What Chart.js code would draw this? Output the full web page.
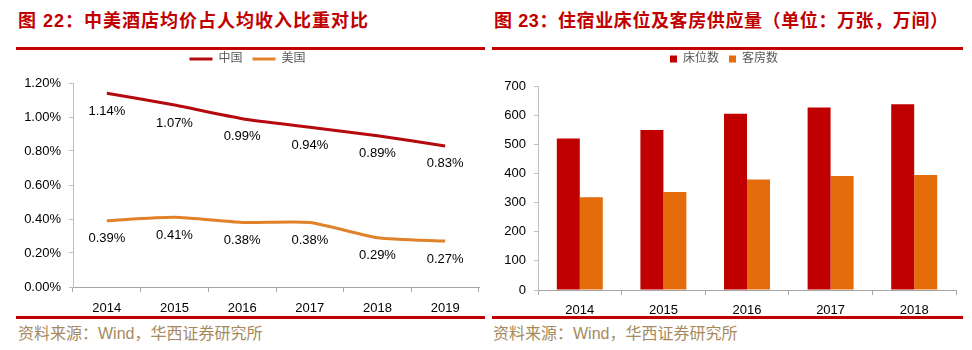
<!DOCTYPE html>
<html>
<head>
<meta charset="utf-8">
<script src="https://cdn.jsdelivr.net/npm/chart.js@4.4.0/dist/chart.umd.min.js"></script>
<style>
  body { margin: 0; width: 972px; height: 350px; background: #fff; position: relative; overflow: hidden; }
  .title { position: absolute; top: 6px; font: bold 18px "Liberation Sans", "Noto Sans CJK SC", sans-serif; color: #C00000; white-space: nowrap; }
  .rule { position: absolute; height: 3px; background: #C00000; }
  .src { position: absolute; top: 320px; font: 16px "Liberation Sans", "Noto Sans CJK SC", sans-serif; color: #A68A5E; white-space: nowrap; }
  canvas { position: absolute; top: 43px; }
</style>
</head>
<body>
<div class="title" style="left:18px;letter-spacing:1px">图 22：中美酒店均价占人均收入比重对比</div>
<div class="title" style="left:494px;letter-spacing:0.6px">图 23：住宿业床位及客房供应量（单位：万张，万间）</div>
<div class="rule" style="left:16px;width:469px;top:47px"></div>
<div class="rule" style="left:492px;width:471px;top:47px"></div>
<canvas id="lineChart" width="470" height="275" style="left:16px"></canvas>
<canvas id="barChart" width="471" height="275" style="left:492px"></canvas>
<div class="rule" style="left:16px;width:469px;top:316px"></div>
<div class="rule" style="left:492px;width:471px;top:316px"></div>
<div class="src" style="left:18px">资料来源：Wind，华西证券研究所</div>
<div class="src" style="left:493px">资料来源：Wind，华西证券研究所</div>

<script>
// 图22 数据（%）
const years22 = ['2014', '2015', '2016', '2017', '2018', '2019'];
const china = [1.14, 1.07, 0.99, 0.94, 0.89, 0.83];
const usa = [0.39, 0.41, 0.38, 0.38, 0.29, 0.27];
const yTicks22 = [0, 0.2, 0.4, 0.6, 0.8, 1.0, 1.2];

// 图23 数据（万张，万间）
const years23 = ['2014', '2015', '2016', '2017', '2018'];
const beds = [520, 549, 605, 626, 637];
const rooms = [318, 336, 379, 391, 395];
const yTicks23 = [0, 100, 200, 300, 400, 500, 600, 700];

Chart.defaults.font.family = '"Liberation Sans", "Noto Sans CJK SC", sans-serif';
Chart.defaults.color = '#000';

// fija la altura de la leyenda para controlar el área del gráfico
function legendHeight(h) {
  return {
    id: 'legendHeight',
    beforeInit(chart) {
      const fit = chart.legend.fit;
      chart.legend.fit = function () {
        fit.bind(chart.legend)();
        this.height = h;
      };
    }
  };
}

// etiquetas de valor debajo de cada punto
const pointLabels = {
  id: 'pointLabels',
  afterDatasetsDraw(chart) {
    const ctx = chart.ctx;
    ctx.save();
    ctx.font = '13px "Liberation Sans", Arial, sans-serif';
    ctx.fillStyle = '#000';
    ctx.textAlign = 'center';
    ctx.textBaseline = 'middle';
    chart.data.datasets.forEach((ds, i) => {
      chart.getDatasetMeta(i).data.forEach((pt, j) => {
        ctx.fillText(ds.data[j].toFixed(2) + '%', pt.x, pt.y + 18);
      });
    });
    ctx.restore();
  }
};

new Chart(document.getElementById('lineChart'), {
  type: 'line',
  data: {
    labels: years22,
    datasets: [
      { label: '中国', data: china, borderColor: '#B40A0F', backgroundColor: '#B40A0F', borderWidth: 3, pointRadius: 0, tension: 0.2 },
      { label: '美国', data: usa, borderColor: '#E0822A', backgroundColor: '#E0822A', borderWidth: 3, pointRadius: 0, tension: 0.2 }
    ]
  },
  options: {
    responsive: false,
    animation: false,
    layout: { padding: { left: 0, right: 7, top: 0, bottom: 0 } },
    plugins: {
      legend: {
        labels: { usePointStyle: true, pointStyle: 'line', pointStyleWidth: 23, color: '#595959', font: { size: 12 }, padding: 10 }
      },
      tooltip: { enabled: false }
    },
    scales: {
      x: {
        offset: true,
        grid: { display: true, offset: true, drawOnChartArea: false, tickLength: 5, color: '#A6A6A6' },
        border: { color: '#A6A6A6' },
        ticks: { font: { size: 13 }, padding: 9, color: '#000' },
        afterFit(scale) { scale.height = 31; }
      },
      y: {
        min: 0, max: 1.2,
        afterBuildTicks(scale) { scale.ticks = yTicks22.map(v => ({ value: v })); },
        grid: { drawOnChartArea: false, tickLength: 4, color: '#BFBFBF' },
        border: { color: '#BFBFBF' },
        ticks: { font: { size: 13 }, padding: 8, color: '#000', callback: v => v.toFixed(2) + '%' },
        afterFit(scale) { scale.width = 57; }
      }
    }
  },
  plugins: [legendHeight(40), pointLabels]
});

new Chart(document.getElementById('barChart'), {
  type: 'bar',
  data: {
    labels: years23,
    datasets: [
      { label: '床位数', data: beds, backgroundColor: '#C00000' },
      { label: '客房数', data: rooms, backgroundColor: '#E46C0A' }
    ]
  },
  options: {
    responsive: false,
    animation: false,
    layout: { padding: { left: 0, right: 7, top: 0, bottom: 0 } },
    datasets: { bar: { categoryPercentage: 0.55, barPercentage: 1 } },
    plugins: {
      legend: {
        labels: { boxWidth: 7, boxHeight: 7, color: '#595959', font: { size: 12 }, padding: 10 }
      },
      tooltip: { enabled: false }
    },
    scales: {
      x: {
        grid: { display: true, offset: true, drawOnChartArea: false, tickLength: 5, color: '#A6A6A6' },
        border: { color: '#A6A6A6' },
        ticks: { font: { size: 13 }, padding: 8, color: '#000' },
        afterFit(scale) { scale.height = 28; }
      },
      y: {
        min: 0, max: 700,
        afterBuildTicks(scale) { scale.ticks = yTicks23.map(v => ({ value: v })); },
        grid: { drawOnChartArea: false, tickLength: 4, color: '#BFBFBF' },
        border: { color: '#BFBFBF' },
        ticks: { font: { size: 13 }, padding: 8, color: '#000' },
        afterFit(scale) { scale.width = 46; }
      }
    }
  },
  plugins: [legendHeight(43)]
});
</script>
</body>
</html>
